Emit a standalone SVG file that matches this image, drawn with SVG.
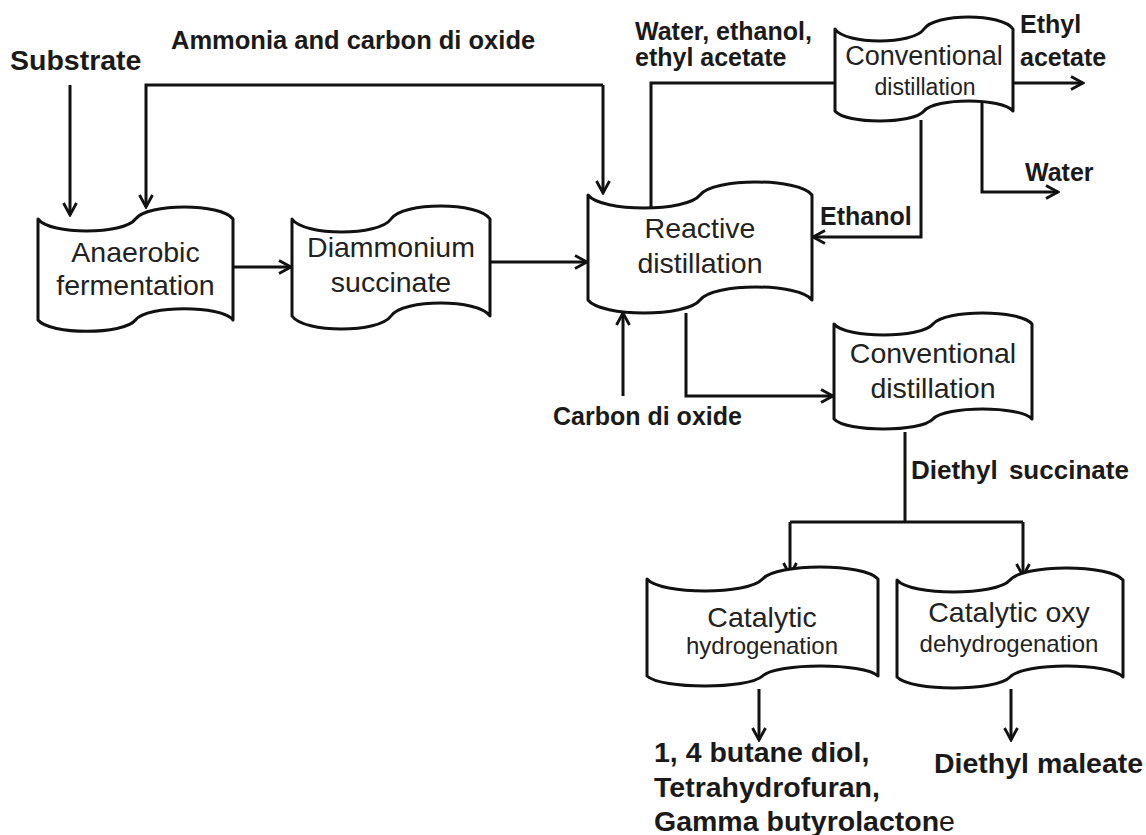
<svg xmlns="http://www.w3.org/2000/svg" width="1146" height="835" viewBox="0 0 1146 835">
  <defs>
    <marker id="arrow" viewBox="0 0 16 16" refX="14" refY="8" markerWidth="16" markerHeight="16" markerUnits="userSpaceOnUse" orient="auto">
      <path d="M2,1.5 L14,8 L2,14.5" fill="none" stroke="#111" stroke-width="2.8" stroke-linejoin="miter"/>
    </marker>
    <style>
      .box { fill: #fff; stroke: #111; stroke-width: 3; stroke-linejoin: round; }
      .wire { fill: none; stroke: #111; stroke-width: 3; }
      .arr { marker-end: url(#arrow); }
      .nt { font-family: "Liberation Sans", Arial, sans-serif; fill: #222; text-anchor: middle; }
      .big { font-size: 28.5px; }
      .small { font-size: 24px; }
      .lbl { font-family: "Liberation Sans", Arial, sans-serif; font-weight: bold; fill: #1a1a1a; font-size: 25px; }
      .out { font-size: 28.5px; }
    </style>
  </defs>

  <rect width="1146" height="835" fill="#fff"/>

  <!-- connectors -->
  <g id="connectors">
    <path class="wire arr" d="M70,85 V215"/>
    <path class="wire arr" d="M603,85 H146 V207"/>
    <path class="wire arr" d="M603,85 V193"/>
    <path class="wire arr" d="M233,267 H291"/>
    <path class="wire arr" d="M490,262 H587"/>
    <path class="wire" d="M651,208 V83 H835"/>
    <path class="wire arr" d="M1013,83 H1083"/>
    <path class="wire arr" d="M982,102 V192 H1058"/>
    <path class="wire arr" d="M921,120 V237 H813"/>
    <path class="wire arr" d="M623,396 V313"/>
    <path class="wire arr" d="M686,313 V396 H833"/>
    <path class="wire" d="M905,432 V522"/>
    <path class="wire" d="M790,522 H1023"/>
    <path class="wire arr" d="M790,522 V575"/>
    <path class="wire arr" d="M1023,522 V576"/>
    <path class="wire arr" d="M759,689 V740"/>
    <path class="wire arr" d="M1011,689 V740"/>
  </g>

  <!-- stream labels -->
  <g id="labels">
    <text class="lbl" x="10" y="70" style="font-size:28.5px">Substrate</text>
    <text class="lbl" x="171" y="49" style="font-size:25.5px">Ammonia and carbon di oxide</text>
    <text class="lbl" x="635" y="40">Water, ethanol,</text>
    <text class="lbl" x="635" y="66">ethyl acetate</text>
    <text class="lbl" x="1020" y="33">Ethyl</text>
    <text class="lbl" x="1020" y="66">acetate</text>
    <text class="lbl" x="1025" y="181">Water</text>
    <text class="lbl" x="820" y="225">Ethanol</text>
    <text class="lbl" x="553" y="425">Carbon di oxide</text>
    <text class="lbl" x="911" y="479" style="font-size:26px" word-spacing="4">Diethyl succinate</text>
    <text class="lbl out" x="654" y="762">1, 4 butane diol,</text>
    <text class="lbl out" x="654" y="797">Tetrahydrofuran,</text>
    <text class="lbl out" x="654" y="831">Gamma butyrolacton<tspan font-weight="normal">e</tspan></text>
    <text class="lbl out" x="934" y="773">Diethyl maleate</text>
  </g>

  <!-- process units -->
  <g id="anaerobic-fermentation">
    <path class="box" d="M38,219 C49.7,235 123.8,235 135.5,219 C147.2,203 221.3,203 233,219 L233,320 C221.3,305 147.2,305 135.5,320 C123.8,335 49.7,335 38,320 Z"/>
    <text class="nt big" x="135.5" y="262">Anaerobic</text>
    <text class="nt big" x="135.5" y="295">fermentation</text>
  </g>

  <g id="diammonium-succinate">
    <path class="box" d="M292,219 C303.9,236.3 379.1,236.3 391,219 C402.9,201.7 478.1,201.7 490,219 L490,316 C478.1,298.7 402.9,298.7 391,316 C379.1,333.3 303.9,333.3 292,316 Z"/>
    <text class="nt big" x="391" y="257">Diammonium</text>
    <text class="nt big" x="391" y="292">succinate</text>
  </g>

  <g id="reactive-distillation">
    <path class="box" d="M588,195 C601.4,212.3 686.6,212.3 700,195 C713.4,177.7 798.6,177.7 812,195 L812,300 C798.6,282.7 713.4,282.7 700,300 C686.6,317.3 601.4,317.3 588,300 Z"/>
    <text class="nt big" x="700" y="238">Reactive</text>
    <text class="nt big" x="700" y="273">distillation</text>
  </g>

  <g id="conventional-distillation-1">
    <path class="box" d="M835,29 C845.7,45 913.3,45 924,29 C934.7,13 1002.3,13 1013,29 L1013,111 C1002.3,97.7 934.7,97.7 924,111 C913.3,124.3 845.7,124.3 835,111 Z"/>
    <text class="nt" x="924" y="65" style="font-size:27px">Conventional</text>
    <text class="nt" x="925" y="95" style="font-size:23px">distillation</text>
  </g>

  <g id="conventional-distillation-2">
    <path class="box" d="M834,324 C845.9,338.7 921.1,338.7 933,324 C944.9,309.3 1020.1,309.3 1032,324 L1032,419 C1020.1,405.7 944.9,405.7 933,419 C921.1,432.3 845.9,432.3 834,419 Z"/>
    <text class="nt big" x="933" y="363">Conventional</text>
    <text class="nt big" x="933" y="398">distillation</text>
  </g>

  <g id="catalytic-hydrogenation">
    <path class="box" d="M647,579 C660.9,595 748.6,595 762.5,579 C776.4,563 864.1,563 878,579 L878,676 C864.1,662.7 776.4,662.7 762.5,676 C748.6,689.3 660.9,689.3 647,676 Z"/>
    <text class="nt big" x="762" y="627">Catalytic</text>
    <text class="nt small" x="762" y="654">hydrogenation</text>
  </g>

  <g id="catalytic-oxy-dehydrogenation">
    <path class="box" d="M897,580 C910.6,596 996.4,596 1010,580 C1023.6,564 1109.4,564 1123,580 L1123,677 C1109.4,662.4 1023.6,662.4 1010,677 C996.4,691.6 910.6,691.6 897,677 Z"/>
    <text class="nt big" x="1009" y="622">Catalytic oxy</text>
    <text class="nt small" x="1009" y="652">dehydrogenation</text>
  </g>
</svg>
